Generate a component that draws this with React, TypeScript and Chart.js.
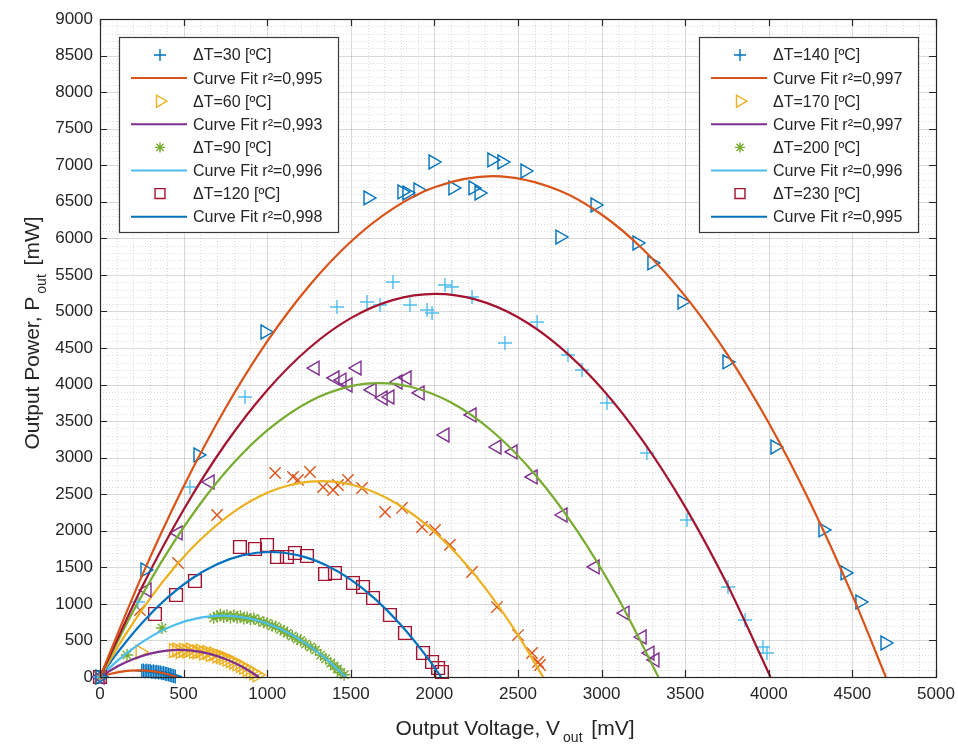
import React, { useEffect, useRef } from 'react';
import { Chart, registerables } from 'chart.js';
import { drawPoint } from 'chart.js/helpers';

Chart.register(...registerables);

// MATLAB default colour order
const C1 = '#0072BD';
const C2 = '#D95319';
const C3 = '#EDB120';
const C4 = '#7E2F8E';
const C5 = '#77AC30';
const C6 = '#4DBEEE';
const C7 = '#A2142F';
const AX = '#262626';

// Axis ranges / tick labels
const xMin = 0;
const xMax = 5000;
const yMin = 0;
const yMax = 9000;
const minorStep = 100;
const majorStep = 500;

// ---------- measured data (V in mV, P in mW) ----------
const dt30V = [0, 250, 260, 270, 280, 290, 300, 310, 320, 330, 340, 350, 360, 370, 380, 390, 400, 410, 420, 430, 440, 450];
const dt30P = [0, 85, 90, 80, 88, 78, 84, 70, 80, 66, 72, 60, 64, 50, 56, 44, 40, 34, 28, 20, 15, 8];

const dt60V = [0, 240, 440, 460, 480, 500, 520, 540, 560, 580, 600, 620, 640, 660, 680, 700, 720, 740, 760, 780, 800, 820, 840, 860, 880, 900, 920, 940];
const dt60P = [0, 342, 360, 370, 350, 365, 355, 370, 350, 345, 355, 330, 335, 310, 315, 290, 280, 265, 245, 225, 205, 180, 160, 135, 105, 80, 55, 30];

const dt90V = [0, 161, 371, 680, 700, 720, 740, 760, 780, 800, 820, 840, 860, 880, 900, 920, 950, 980, 1000, 1030, 1050, 1080, 1100, 1120, 1150, 1180, 1200, 1230, 1260, 1290, 1320, 1350, 1380, 1400, 1420, 1440, 1460];
const dt90P = [0, 300, 670, 810, 830, 850, 820, 845, 815, 840, 810, 830, 800, 815, 790, 800, 770, 750, 735, 700, 690, 650, 630, 600, 560, 520, 500, 450, 410, 370, 300, 250, 190, 150, 110, 60, 30];

const dt120V = [0, 329, 455, 568, 837, 927, 999, 1059, 1118, 1166, 1238, 1346, 1405, 1513, 1573, 1633, 1734, 1824, 1932, 1986, 2022, 2045];
const dt120P = [0, 862, 1122, 1313, 1778, 1751, 1806, 1641, 1641, 1696, 1655, 1409, 1423, 1286, 1231, 1081, 848, 602, 328, 205, 123, 68];

const dt140V = [0, 239, 467, 700, 1047, 1154, 1184, 1256, 1334, 1394, 1423, 1483, 1567, 1705, 1806, 1926, 2004, 2093, 2225, 2374, 2500, 2584, 2620, 2632];
const dt140P = [0, 916, 1559, 2216, 2790, 2736, 2695, 2804, 2599, 2558, 2626, 2695, 2585, 2257, 2312, 2052, 2011, 1806, 1436, 957, 574, 328, 205, 164];

const dt170V = [0, 281, 467, 658, 1286, 1405, 1447, 1483, 1537, 1627, 1693, 1734, 1782, 1836, 1914, 2063, 2225, 2374, 2470, 2590, 2769, 2961, 3140, 3242, 3289, 3319];
const dt170P = [0, 1190, 1970, 2667, 4226, 4090, 4062, 3994, 4226, 3926, 3816, 3830, 4035, 4090, 3885, 3310, 3584, 3146, 3078, 2736, 2216, 1505, 875, 547, 328, 233];

const dt200V = [0, 227, 538, 867, 1417, 1597, 1675, 1752, 1854, 1956, 1986, 2063, 2105, 2225, 2422, 2614, 2799, 2883, 3032, 3271, 3511, 3756, 3858, 3965, 3989];
const dt200P = [0, 1026, 2599, 3830, 5061, 5129, 5088, 5403, 5088, 5020, 4979, 5362, 5334, 5198, 4569, 4856, 4404, 4199, 3748, 3064, 2147, 1231, 780, 410, 328];

const dt230V = [0, 269, 586, 987, 1603, 1806, 1836, 1902, 1992, 2111, 2231, 2267, 2344, 2404, 2542, 2751, 2961, 3212, 3301, 3481, 3750, 4037, 4324, 4456, 4545, 4695];
const dt230P = [0, 1464, 3037, 4719, 6552, 6634, 6620, 6661, 7044, 6689, 6689, 6620, 7072, 7044, 6921, 6018, 6456, 5936, 5663, 5129, 4309, 3146, 2011, 1423, 1026, 465];

// ---------- curve fits ----------
const fit30V = [0, 60, 120, 180, 230, 280, 340, 400, 460];
const fit30P = [0, 41, 69, 86, 90, 86, 69, 41, 0];

const fit60V = [0, 100, 200, 300, 400, 475, 550, 650, 750, 850, 950];
const fit60P = [0, 139, 246, 320, 361, 370, 361, 320, 246, 139, 0];

const fit90V = [0, 100, 200, 300, 450, 600, 735, 900, 1050, 1200, 1350, 1470];
const fit90P = [0, 213, 395, 546, 714, 812, 840, 798, 686, 504, 252, 0];

const fit120V = [0, 100, 250, 400, 550, 700, 850, 1020, 1200, 1350, 1500, 1650, 1800, 1950, 2040];
const fit120P = [0, 319, 736, 1078, 1347, 1542, 1663, 1710, 1657, 1531, 1331, 1058, 710, 288, 0];

const fit140V = [0, 150, 300, 450, 600, 800, 1000, 1150, 1325, 1500, 1700, 1900, 2100, 2300, 2500, 2650];
const fit140P = [0, 572, 1076, 1511, 1878, 2259, 2519, 2633, 2680, 2633, 2465, 2175, 1763, 1229, 572, 0];

const fit170V = [0, 200, 400, 600, 800, 1000, 1250, 1500, 1670, 1850, 2100, 2350, 2600, 2850, 3100, 3340];
const fit170P = [0, 905, 1695, 2370, 2929, 3373, 3766, 3978, 4020, 3973, 3754, 3354, 2773, 2013, 1073, 0];

const fit200V = [0, 250, 500, 750, 1000, 1250, 1500, 1750, 2005, 2250, 2500, 2750, 3000, 3250, 3500, 3750, 4010];
const fit200P = [0, 1225, 2288, 3187, 3923, 4497, 4908, 5155, 5240, 5162, 4921, 4516, 3950, 3220, 2327, 1271, 0];

const fit230V = [0, 250, 500, 750, 1000, 1250, 1500, 1750, 2000, 2350, 2750, 3000, 3250, 3500, 3750, 4000, 4250, 4500, 4700];
const fit230P = [0, 1380, 2605, 3675, 4590, 5349, 5954, 6403, 6698, 6850, 6652, 6326, 5845, 5210, 4419, 3473, 2372, 1116, 0];

// ---------- legend texts ----------
const legendLeftLabels = [
  'ΔT=30 [ºC]', 'Curve Fit r²=0,995',
  'ΔT=60 [ºC]', 'Curve Fit r²=0,993',
  'ΔT=90 [ºC]', 'Curve Fit r²=0,996',
  'ΔT=120 [ºC]', 'Curve Fit r²=0,998',
];
const legendRightLabels = [
  'ΔT=140 [ºC]', 'Curve Fit r²=0,997',
  'ΔT=170 [ºC]', 'Curve Fit r²=0,997',
  'ΔT=200 [ºC]', 'Curve Fit r²=0,996',
  'ΔT=230 [ºC]', 'Curve Fit r²=0,995',
];

const xTitleMain = 'Output Voltage, V';
const xTitleSub = 'out';
const xTitleEnd = ' [mV]';
const yTitleMain = 'Output Power, P';
const yTitleSub = 'out';
const yTitleEnd = ' [mW]';

// ---------- styles ----------
const FONT = "'Liberation Sans', Arial, Helvetica, sans-serif";

type Mk = { style: string; rot: number; r: number };
const MK_PLUS: Mk = { style: 'cross', rot: 0, r: 7 };
const MK_RIGHT: Mk = { style: 'triangle', rot: 90, r: 8 };
const MK_LEFT: Mk = { style: 'triangle', rot: -90, r: 8 };
const MK_STAR: Mk = { style: 'star', rot: 0, r: 6 };
const MK_SQUARE: Mk = { style: 'rect', rot: 0, r: 9 };
const MK_X: Mk = { style: 'crossRot', rot: 0, r: 8 };

const legendEntries = [
  { kind: 'point', color: C1, mk: MK_PLUS },
  { kind: 'line', color: C2 },
  { kind: 'point', color: C3, mk: MK_RIGHT },
  { kind: 'line', color: C4 },
  { kind: 'point', color: C5, mk: MK_STAR },
  { kind: 'line', color: C6 },
  { kind: 'point', color: C7, mk: { style: 'rect', rot: 0, r: 8 } },
  { kind: 'line', color: C1 },
];

function pts(xs: number[], ys: number[]) {
  return xs.map((x, i) => ({ x, y: ys[i] }));
}

const seriesDefs = [
  { v: dt30V, p: dt30P, fv: fit30V, fp: fit30P, mc: C1, mk: MK_PLUS, fc: C2 },
  { v: dt60V, p: dt60P, fv: fit60V, fp: fit60P, mc: C3, mk: MK_RIGHT, fc: C4 },
  { v: dt90V, p: dt90P, fv: fit90V, fp: fit90P, mc: C5, mk: MK_STAR, fc: C6 },
  { v: dt120V, p: dt120P, fv: fit120V, fp: fit120P, mc: C7, mk: MK_SQUARE, fc: C1 },
  { v: dt140V, p: dt140P, fv: fit140V, fp: fit140P, mc: C2, mk: MK_X, fc: C3 },
  { v: dt170V, p: dt170P, fv: fit170V, fp: fit170P, mc: C4, mk: MK_LEFT, fc: C5 },
  { v: dt200V, p: dt200P, fv: fit200V, fp: fit200P, mc: C6, mk: MK_PLUS, fc: C7 },
  { v: dt230V, p: dt230P, fv: fit230V, fp: fit230P, mc: C1, mk: MK_RIGHT, fc: C2 },
];

function buildDatasets() {
  const out: any[] = [];
  const list: any[] = [];
  seriesDefs.forEach((s) => {
    list.push({
      data: pts(s.v, s.p),
      showLine: false,
      pointStyle: s.mk.style,
      pointRotation: s.mk.rot,
      pointRadius: s.mk.r,
      pointBorderWidth: 1.4,
      borderColor: s.mc,
      backgroundColor: 'rgba(0,0,0,0)',
      clip: false,
    });
    list.push({
      data: pts(s.fv, s.fp),
      showLine: true,
      pointRadius: 0,
      borderColor: s.fc,
      borderWidth: 2.2,
      backgroundColor: s.fc,
      cubicInterpolationMode: 'monotone',
      fill: false,
    });
  });
  // chart.js paints index 0 last; reverse so later series sit on top (as in MATLAB)
  for (let i = list.length - 1; i >= 0; i--) out.push(list[i]);
  return out;
}

function drawSubTitle(ctx: CanvasRenderingContext2D, main: string, sub: string, end: string) {
  const mainFont = `21px ${FONT}`;
  const subFont = `14px ${FONT}`;
  ctx.font = mainFont;
  const w1 = ctx.measureText(main).width;
  const w3 = ctx.measureText(end).width;
  ctx.font = subFont;
  const w2 = ctx.measureText(sub).width;
  const gap = 3;
  const total = w1 + gap + w2 + gap + w3;
  let x = -total / 2;
  ctx.textBaseline = 'alphabetic';
  ctx.textAlign = 'left';
  ctx.font = mainFont;
  ctx.fillText(main, x, 0);
  x += w1 + gap;
  ctx.font = subFont;
  ctx.fillText(sub, x, 7);
  x += w2 + gap;
  ctx.font = mainFont;
  ctx.fillText(end, x, 0);
}

function drawLegend(ctx: CanvasRenderingContext2D, left: number, top: number, labels: string[]) {
  const w = 219;
  const h = 195;
  ctx.save();
  ctx.fillStyle = '#ffffff';
  ctx.fillRect(left, top, w, h);
  ctx.strokeStyle = '#3a3a3a';
  ctx.lineWidth = 1.2;
  ctx.strokeRect(left + 0.5, top + 0.5, w, h);
  ctx.font = `16px ${FONT}`;
  ctx.textBaseline = 'middle';
  ctx.textAlign = 'left';
  labels.forEach((label, i) => {
    const cy = top + 18 + i * 23.1;
    const e: any = legendEntries[i];
    if (e.kind === 'line') {
      ctx.strokeStyle = e.color;
      ctx.lineWidth = 2;
      ctx.beginPath();
      ctx.moveTo(left + 12, cy);
      ctx.lineTo(left + 68, cy);
      ctx.stroke();
    } else {
      ctx.strokeStyle = e.color;
      ctx.fillStyle = 'rgba(0,0,0,0)';
      ctx.lineWidth = 1.4;
      drawPoint(ctx, { pointStyle: e.mk.style, rotation: e.mk.rot, radius: e.mk.r - 1, borderWidth: 1.4 } as any, left + 41, cy);
    }
    ctx.fillStyle = AX;
    ctx.fillText(label, left + 74, cy + 1);
  });
  ctx.restore();
}

const matlabPlugin = {
  id: 'matlabLook',
  beforeDatasetsDraw(chart: any) {
    const { ctx, chartArea: a, scales } = chart;
    const xs = scales.x;
    const ys = scales.y;
    ctx.save();
    ctx.lineWidth = 1;
    // minor dotted grid
    ctx.setLineDash([1, 2]);
    ctx.strokeStyle = 'rgba(38,38,38,0.16)';
    xs.ticks.forEach((t: any, i: number) => {
      if (t.value % majorStep === 0) return;
      const px = Math.round(xs.getPixelForTick(i)) + 0.5;
      ctx.beginPath(); ctx.moveTo(px, a.top); ctx.lineTo(px, a.bottom); ctx.stroke();
    });
    ys.ticks.forEach((t: any, i: number) => {
      if (t.value % majorStep === 0) return;
      const py = Math.round(ys.getPixelForTick(i)) + 0.5;
      ctx.beginPath(); ctx.moveTo(a.left, py); ctx.lineTo(a.right, py); ctx.stroke();
    });
    // major solid grid
    ctx.setLineDash([]);
    ctx.strokeStyle = 'rgba(38,38,38,0.17)';
    xs.ticks.forEach((t: any, i: number) => {
      if (t.value % majorStep !== 0) return;
      const px = Math.round(xs.getPixelForTick(i)) + 0.5;
      ctx.beginPath(); ctx.moveTo(px, a.top); ctx.lineTo(px, a.bottom); ctx.stroke();
    });
    ys.ticks.forEach((t: any, i: number) => {
      if (t.value % majorStep !== 0) return;
      const py = Math.round(ys.getPixelForTick(i)) + 0.5;
      ctx.beginPath(); ctx.moveTo(a.left, py); ctx.lineTo(a.right, py); ctx.stroke();
    });
    ctx.restore();
  },
  afterDraw(chart: any) {
    const { ctx, chartArea: a, scales } = chart;
    const xs = scales.x;
    const ys = scales.y;
    ctx.save();
    // axis box
    ctx.strokeStyle = AX;
    ctx.lineWidth = 1.2;
    ctx.strokeRect(a.left + 0.5, a.top + 0.5, a.right - a.left, a.bottom - a.top);
    // inward tick marks
    const tl = 7;
    ctx.beginPath();
    xs.ticks.forEach((t: any, i: number) => {
      if (t.value % majorStep !== 0) return;
      const px = Math.round(xs.getPixelForTick(i)) + 0.5;
      ctx.moveTo(px, a.bottom); ctx.lineTo(px, a.bottom - tl);
      ctx.moveTo(px, a.top); ctx.lineTo(px, a.top + tl);
    });
    ys.ticks.forEach((t: any, i: number) => {
      if (t.value % majorStep !== 0) return;
      const py = Math.round(ys.getPixelForTick(i)) + 0.5;
      ctx.moveTo(a.left, py); ctx.lineTo(a.left + tl, py);
      ctx.moveTo(a.right, py); ctx.lineTo(a.right - tl, py);
    });
    ctx.stroke();
    ctx.restore();

    // legends
    drawLegend(ctx, a.left + 19, a.top + 18, legendLeftLabels);
    drawLegend(ctx, a.right - 18 - 219, a.top + 18, legendRightLabels);

    // axis titles
    ctx.save();
    ctx.fillStyle = AX;
    ctx.translate((a.left + a.right) / 2 - 3, 735);
    drawSubTitle(ctx, xTitleMain, xTitleSub, xTitleEnd);
    ctx.restore();

    ctx.save();
    ctx.fillStyle = AX;
    ctx.translate(39, 333);
    ctx.rotate(-Math.PI / 2);
    drawSubTitle(ctx, yTitleMain, yTitleSub, yTitleEnd);
    ctx.restore();
  },
};

export default function App() {
  const ref = useRef<HTMLCanvasElement>(null);
  useEffect(() => {
    if (!ref.current) return;
    const tickLabel = (v: any) => (Number(v) % majorStep === 0 ? String(v) : '');
    const chart = new Chart(ref.current, {
      type: 'scatter',
      data: { datasets: buildDatasets() },
      plugins: [matlabPlugin],
      options: {
        animation: false,
        responsive: false,
        devicePixelRatio: 1,
        events: [],
        layout: { padding: { top: 19, right: 22, left: 0, bottom: 0 } },
        plugins: { legend: { display: false }, tooltip: { enabled: false }, title: { display: false } },
        scales: {
          x: {
            type: 'linear',
            min: xMin,
            max: xMax,
            grid: { display: false, drawTicks: false },
            border: { display: false },
            ticks: {
              stepSize: minorStep,
              autoSkip: false,
              maxRotation: 0,
              minRotation: 0,
              padding: 7,
              color: AX,
              font: { family: FONT, size: 17 },
              callback: tickLabel,
            },
            afterFit: (s: any) => { s.height = 67; s.paddingLeft = 0; s.paddingRight = 0; },
          },
          y: {
            type: 'linear',
            min: yMin,
            max: yMax,
            grid: { display: false, drawTicks: false },
            border: { display: false },
            ticks: {
              stepSize: minorStep,
              autoSkip: false,
              padding: 7,
              color: AX,
              font: { family: FONT, size: 17 },
              callback: tickLabel,
            },
            afterFit: (s: any) => { s.width = 100; s.paddingTop = 0; s.paddingBottom = 0; },
          },
        },
      } as any,
    });
    return () => chart.destroy();
  }, []);
  return (
    <div style={{ position: 'fixed', left: 0, top: 0, width: 958, height: 744, background: '#ffffff' }}>
      <canvas ref={ref} width={958} height={744} style={{ display: 'block', width: 958, height: 744 }} />
    </div>
  );
}
